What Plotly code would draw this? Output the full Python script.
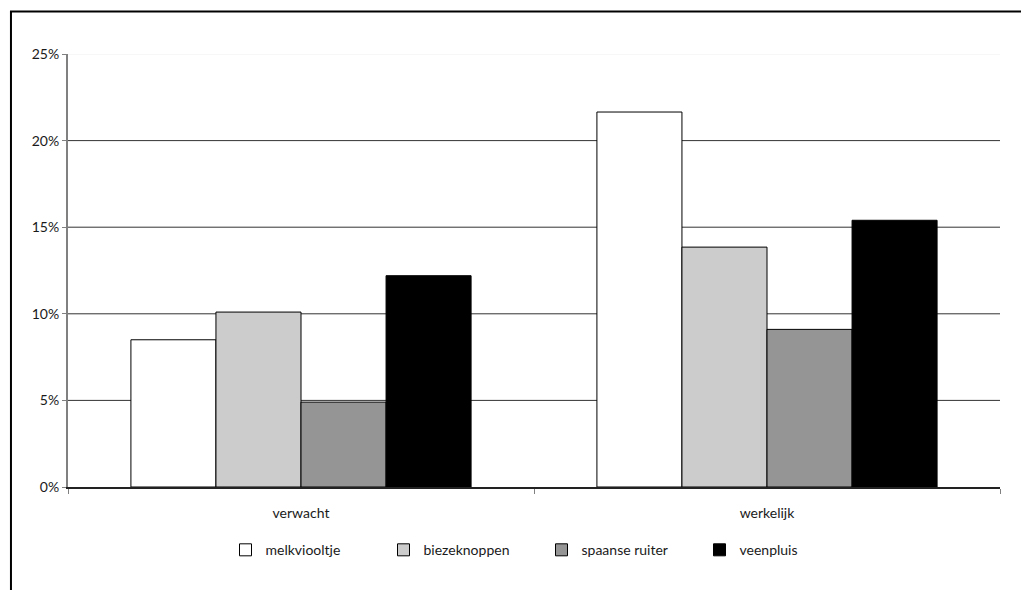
import plotly.graph_objects as go

# Categories and series (share of plants, in %)
categories = ["verwacht", "werkelijk"]
series_names = ["melkviooltje", "biezeknoppen", "spaanse ruiter", "veenpluis"]
melkviooltje = [8.5, 21.65]
biezeknoppen = [10.1, 13.85]
spaanse_ruiter = [4.9, 9.1]
veenpluis = [12.2, 15.4]
y_ticks = [0, 5, 10, 15, 20, 25]
y_tick_labels = [f"{v}%" for v in y_ticks]

series_values = [melkviooltje, biezeknoppen, spaanse_ruiter, veenpluis]
fill_colors = ["#ffffff", "#cccccc", "#959595", "#000000"]

FONT = "Lato"

fig = go.Figure()
for name, vals, col in zip(series_names, series_values, fill_colors):
    fig.add_trace(go.Bar(
        name=name, x=categories, y=vals,
        marker=dict(color=col, line=dict(color="#000000", width=1)),
    ))

# horizontal gridlines (the top one is nearly invisible)
shapes = []
for v in y_ticks[1:]:
    shapes.append(dict(
        type="line", xref="paper", yref="y", x0=0, x1=1, y0=v, y1=v,
        line=dict(color="#f0f0f0" if v == y_ticks[-1] else "#333333", width=1),
        layer="below",
    ))
# outer frame of the chart area
shapes.append(dict(
    type="rect", xref="paper", yref="paper",
    x0=-0.0612, x1=1.04, y0=-0.28, y1=1.098,
    line=dict(color="#000000", width=2), fillcolor="rgba(0,0,0,0)",
))

fig.update_layout(
    width=1021, height=590,
    margin=dict(l=68, r=21, t=54, b=103),
    paper_bgcolor="white", plot_bgcolor="white",
    barmode="group", bargap=0.27, bargroupgap=0,
    font=dict(family=FONT, size=14, color="#1a1a1a"),
    shapes=shapes,
    showlegend=True,
    legend=dict(
        orientation="h", x=0.169, xanchor="left", y=-0.146, yanchor="middle",
        entrywidth=113, entrywidthmode="pixels", itemwidth=30,
        font=dict(family=FONT, size=14, color="#1a1a1a"),
        bgcolor="rgba(0,0,0,0)", traceorder="normal",
    ),
    xaxis=dict(
        type="category", showline=True, linecolor="#222222", linewidth=1.5,
        ticks="outside", tickson="boundaries", ticklen=5, tickcolor="#808080",
        tickwidth=1, showgrid=False, zeroline=False, ticklabelstandoff=12,
        tickfont=dict(family=FONT, size=14, color="#1a1a1a"),
    ),
    yaxis=dict(
        range=[0, 25], tickmode="array", tickvals=y_ticks, ticktext=y_tick_labels,
        showline=True, linecolor="#808080", linewidth=2,
        ticks="outside", ticklen=4, tickcolor="#808080", tickwidth=1,
        showgrid=False, zeroline=False,
        tickfont=dict(family=FONT, size=14, color="#1a1a1a"),
    ),
)

fig.write_html("out.html")
